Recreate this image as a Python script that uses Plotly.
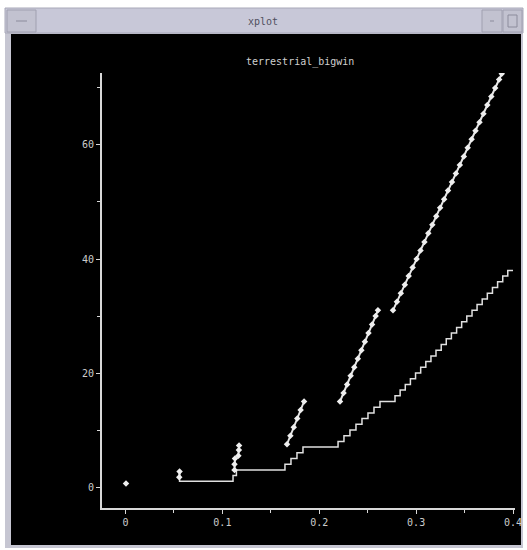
import plotly.graph_objects as go

# ---- data ----
# staircase (window) line
win_t = [0.0558, 0.0558, 0.1110, 0.1145, 0.1646, 0.1708, 0.1770, 0.1832,
         0.2194, 0.2255, 0.2317, 0.2379, 0.2441, 0.2503, 0.2565, 0.2627,
         0.2782, 0.2835, 0.2888, 0.2941, 0.2994, 0.3047, 0.3100, 0.3153,
         0.3205, 0.3259, 0.3311, 0.3364, 0.3418, 0.3470, 0.3523, 0.3577,
         0.3629, 0.3682, 0.3735, 0.3788, 0.3841, 0.3894, 0.3946, 0.4000]
win_v = [2.5, 1, 2, 3, 4, 5, 6, 7,
         8, 9, 10, 11, 12, 13, 14, 15,
         16, 17, 18, 19, 20, 21, 22, 23,
         24, 25, 26, 27, 28, 29, 30, 31,
         32, 33, 34, 35, 36, 37, 38, 38]

# segment chains (None separates bursts)
seg_t = [0.0005, None,
         0.0555, 0.0558, None,
         0.1125, 0.1125, 0.1130, None,
         0.1165, 0.1170, 0.1172, None,
         0.1667, 0.1702, 0.1737, 0.1773, 0.1808, 0.1843, None,
         0.2214, 0.2251, 0.2288, 0.2324, 0.2361, 0.2398, 0.2435, 0.2471,
         0.2508, 0.2545, 0.2582, 0.2606, None,
         0.2761, 0.2802, 0.2842, 0.2883, 0.2923, 0.2964, 0.3005, 0.3045,
         0.3086, 0.3126, 0.3167, 0.3208, 0.3248, 0.3289, 0.3329, 0.3370,
         0.3410, 0.3451, 0.3492, 0.3532, 0.3573, 0.3613, 0.3654, 0.3695,
         0.3735, 0.3776, 0.3816, 0.3857, 0.3884]
seg_v = [0.6, None,
         1.7, 2.7, None,
         3.0, 4.0, 5.0, None,
         5.5, 6.5, 7.3, None,
         7.5, 9.0, 10.5, 12.0, 13.5, 15.0, None,
         15.0, 16.5, 18.0, 19.5, 21.0, 22.5, 24.0, 25.5,
         27.0, 28.5, 30.0, 31.0, None,
         31.0, 32.5, 34.0, 35.5, 37.0, 38.5, 40.0, 41.5,
         43.0, 44.5, 46.0, 47.5, 49.0, 50.5, 52.0, 53.5,
         55.0, 56.5, 58.0, 59.5, 61.0, 62.5, 64.0, 65.5,
         67.0, 68.5, 70.0, 71.5, 72.5]

x_ticks = [0, 0.1, 0.2, 0.3, 0.4]
x_labels = ["0", "0.1", "0.2", "0.3", "0.4"]
y_ticks = [0, 20, 40, 60]
y_labels = ["0", "20", "40", "60"]

W, H = 527, 550
def px(x):
    return x / W
def py(y):
    return 1 - y / H

FG = "#d8d8d8"
FONT = "DejaVu Sans Mono"

fig = go.Figure()
fig.add_trace(go.Scatter(x=win_t, y=win_v, mode="lines", line_shape="hv",
                         line=dict(color="#e0e0e0", width=1.5),
                         hoverinfo="skip", showlegend=False))
fig.add_trace(go.Scatter(x=seg_t, y=seg_v, mode="lines+markers",
                         connectgaps=False,
                         line=dict(color="#e8e8e8", width=2),
                         marker=dict(symbol="diamond", size=5, color="#eeeeee"),
                         hoverinfo="skip", showlegend=False))

shapes = [
    # window frame
    dict(type="rect", xref="paper", yref="paper", x0=px(5), x1=px(523), y0=py(548), y1=py(8),
         fillcolor="#c6c6d2", line=dict(width=0), layer="below"),
    # black canvas
    dict(type="rect", xref="paper", yref="paper", x0=px(11), x1=px(521), y0=py(545), y1=py(34),
         fillcolor="#000000", line=dict(width=0), layer="below"),
    # title bar
    dict(type="rect", xref="paper", yref="paper", x0=px(5), x1=px(523), y0=py(33), y1=py(8),
         fillcolor="#c8c8d8", line=dict(color="#a8a8b8", width=1), layer="below"),
    # buttons
    dict(type="rect", xref="paper", yref="paper", x0=px(7), x1=px(36), y0=py(32), y1=py(10),
         fillcolor="#c2c2d0", line=dict(color="#a0a0b0", width=1), layer="below"),
    dict(type="rect", xref="paper", yref="paper", x0=px(482), x1=px(502), y0=py(32), y1=py(10),
         fillcolor="#c2c2d0", line=dict(color="#a0a0b0", width=1), layer="below"),
    dict(type="rect", xref="paper", yref="paper", x0=px(503), x1=px(522), y0=py(32), y1=py(10),
         fillcolor="#c2c2d0", line=dict(color="#a0a0b0", width=1), layer="below"),
    dict(type="line", xref="paper", yref="paper", x0=px(16), x1=px(27), y0=py(21), y1=py(21),
         line=dict(color="#8c8c9c", width=1)),
    dict(type="rect", xref="paper", yref="paper", x0=px(508), x1=px(517), y0=py(27), y1=py(15),
         line=dict(color="#8c8c9c", width=1)),
    dict(type="line", xref="paper", yref="paper", x0=px(490), x1=px(494), y0=py(21), y1=py(21),
         line=dict(color="#8c8c9c", width=1)),
]

annotations = [
    dict(text="xplot", xref="paper", yref="paper", x=px(263), y=py(21),
         showarrow=False, font=dict(family=FONT, size=10, color="#505060"),
         xanchor="center", yanchor="middle"),
    dict(text="terrestrial_bigwin", xref="paper", yref="paper", x=px(300), y=py(62),
         showarrow=False, font=dict(family=FONT, size=10, color="#d0d0d0"),
         xanchor="center", yanchor="middle"),
]

fig.update_layout(
    width=W, height=H,
    margin=dict(l=0, r=0, t=0, b=0),
    paper_bgcolor="#ffffff",
    plot_bgcolor="rgba(0,0,0,0)",
    shapes=shapes,
    annotations=annotations,
    xaxis=dict(domain=[px(102), px(515)], range=[-0.02426, 0.40206],
               showgrid=False, zeroline=False, showline=True,
               linecolor=FG, linewidth=2, ticks="outside", ticklen=4,
               tickcolor=FG, tickwidth=1,
               tickvals=x_ticks, ticktext=x_labels,
               tickfont=dict(family=FONT, size=10, color="#cccccc"),
               minor=dict(tickvals=[0.05, 0.15, 0.25, 0.35], ticks="outside",
                          ticklen=3, tickcolor=FG),
               automargin=False, fixedrange=True),
    yaxis=dict(domain=[py(508), py(73)], range=[-3.684, 72.63],
               showgrid=False, zeroline=False, showline=True,
               linecolor=FG, linewidth=2, ticks="outside", ticklen=4,
               tickcolor=FG, tickwidth=1,
               tickvals=y_ticks, ticktext=y_labels,
               tickfont=dict(family=FONT, size=10, color="#cccccc"),
               minor=dict(tickvals=[10, 30, 50, 70], ticks="outside",
                          ticklen=3, tickcolor=FG),
               automargin=False, fixedrange=True),
)

fig.write_html("out.html", config={"displayModeBar": False},
               post_script="document.body.style.margin='0';document.body.style.overflow='hidden';")
